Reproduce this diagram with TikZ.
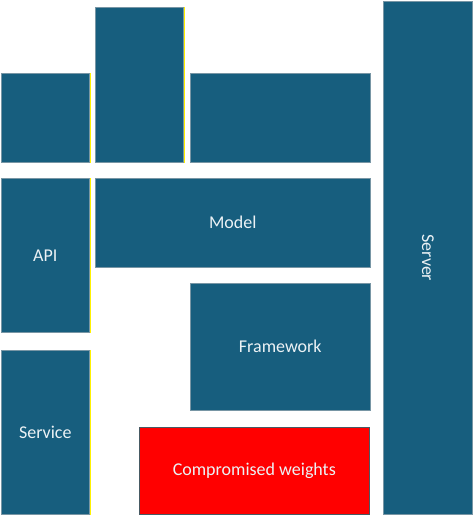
\documentclass[tikz,border=0pt]{standalone}
\usepackage{fontspec}
\setmainfont{Carlito}
\definecolor{layerblue}{RGB}{23,94,126}
\definecolor{layeredge}{RGB}{120,150,165}
\definecolor{hotred}{RGB}{255,0,0}
\tikzset{
  layer/.style={rectangle, anchor=north west, fill=layerblue, draw=layeredge,
    line width=0.6pt, inner sep=0pt, text=white!92!layerblue, font=\fontsize{18}{21}\selectfont},
  badlayer/.style={layer, fill=hotred, draw=layeredge!60!black},
  edgeline/.style={yellow, line width=1.2pt}
}
\begin{document}
\begin{tikzpicture}[x=1pt,y=-1pt]
\useasboundingbox (0,0) rectangle (473,516);
  \node [layer, minimum width=88, minimum height=89] (hwa) at (1,73) {};
  \node [layer, minimum width=88, minimum height=155] (hwb) at (95,7) {};
  \node [layer, minimum width=180, minimum height=89] (hwc) at (190,73) {};
  \node [layer, minimum width=88, minimum height=154] (api) at (1,178) {API};
  \node [layer, minimum width=275, minimum height=89] (model) at (95,178) {Model};
  \node [layer, minimum width=180, minimum height=127] (framework) at (190,283) {Framework};
  \node [layer, minimum width=88, minimum height=164] (service) at (1,350) {Service};
  \node [badlayer, minimum width=230, minimum height=87] (weights) at (139,427) {Compromised weights};
  \node [layer, minimum width=89, minimum height=513] (server) at (383,1) {};
  \node [rotate=-90, text=white!92!layerblue, font=\fontsize{18}{21}\selectfont] (serverlabel) at (server.center) {Server};
  % yellow right edges
  \draw [edgeline] ([xshift=1pt]hwa.north east) -- ([xshift=1pt]hwa.south east);
  \draw [edgeline] ([xshift=1pt]hwb.north east) -- ([xshift=1pt]hwb.south east);
  \draw [edgeline] ([xshift=1pt]api.north east) -- ([xshift=1pt]api.south east);
  \draw [edgeline] ([xshift=1pt]service.north east) -- ([xshift=1pt]service.south east);
\end{tikzpicture}
\end{document}
